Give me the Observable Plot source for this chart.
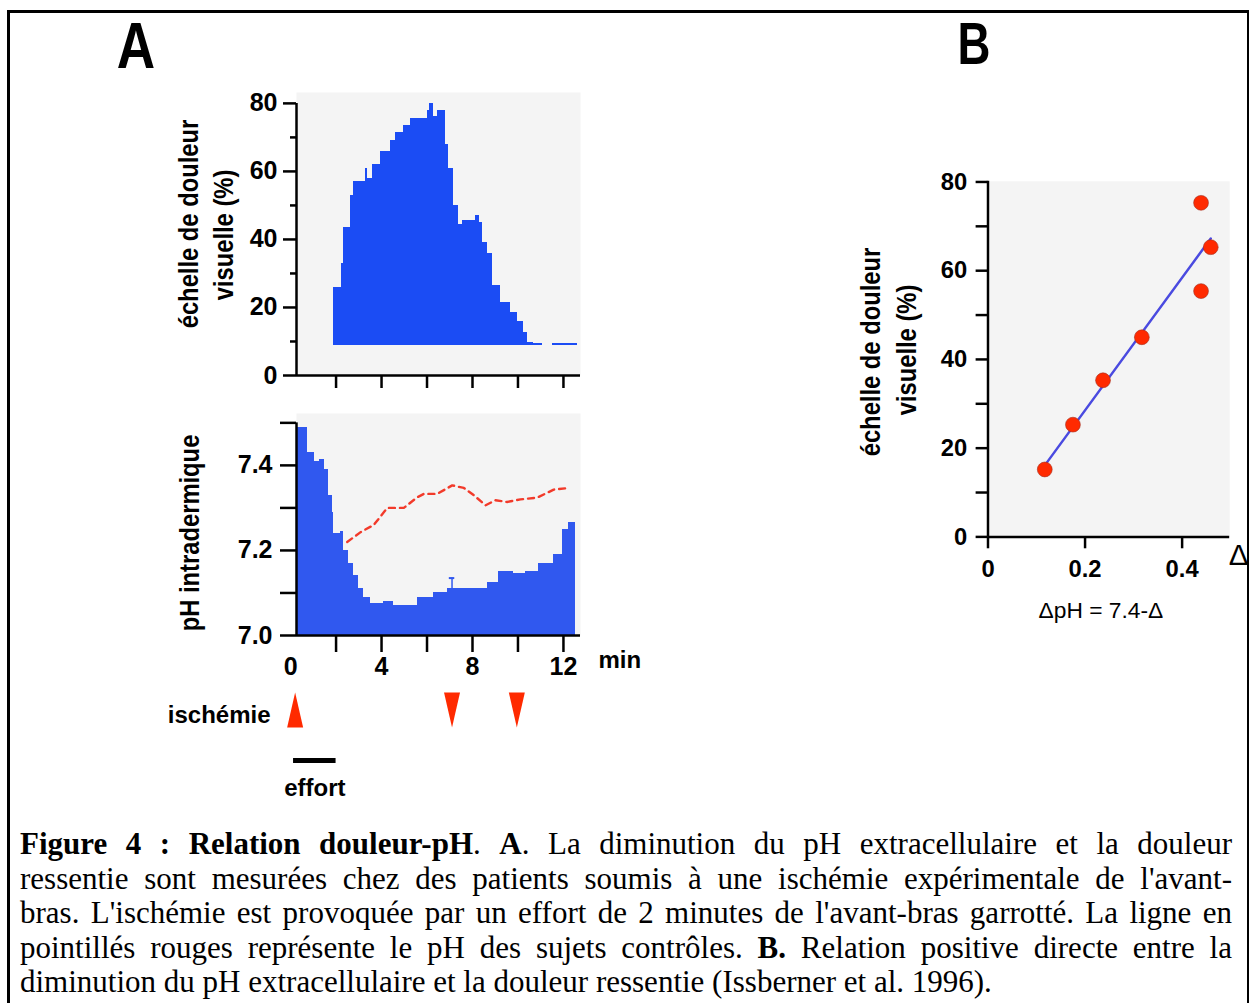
<!DOCTYPE html>
<html>
<head>
<meta charset="utf-8">
<script src="https://cdn.jsdelivr.net/npm/d3@7"></script>
<script src="https://cdn.jsdelivr.net/npm/@observablehq/plot@0.6"></script>
<style>
  html, body { margin: 0; padding: 0; background: #fff; }
  #frame { position: absolute; left: 7px; top: 10px; width: 1243px; height: 1010px; box-sizing: border-box; border: 3px solid #000; overflow: hidden; background: #fff; }
  #page { position: absolute; left: -10px; top: -13px; width: 1249px; height: 1003px; }
  .holder { position: absolute; }
  .lbl { position: absolute; font-family: "Liberation Sans", Arial, Helvetica, sans-serif; font-weight: bold; white-space: nowrap; line-height: 1.2; color: #000; transform: translate(-50%, -50%) scaleX(0.85); }
  .rot { transform: translate(-50%, -50%) rotate(-90deg) scaleX(0.88); }
  #caption { position: absolute; left: 20px; top: 827px; width: 1212px; font-family: "Liberation Serif", "Times New Roman", serif; font-size: 31px; line-height: 34.6px; color: #000; }
  #caption div { text-align: justify; text-align-last: justify; }
  #caption div.last { text-align-last: left; }
</style>
</head>
<body>
<div id="frame"><div id="page">
  <div class="lbl" style="left:136px; top:46px; font-size:64px; transform: translate(-50%, -50%) scaleX(0.83);">A</div>
  <div class="lbl" style="left:974px; top:44px; font-size:60px; transform: translate(-50%, -50%) scaleX(0.76);">B</div>

  <div class="lbl rot" style="left:189px; top:224px; font-size:27px;">échelle de douleur</div>
  <div class="lbl rot" style="left:224px; top:235px; font-size:27px;">visuelle (%)</div>
  <div class="lbl rot" style="left:190px; top:533px; font-size:27px;">pH intradermique</div>
  <div class="lbl rot" style="left:871px; top:352px; font-size:27px;">échelle de douleur</div>
  <div class="lbl rot" style="left:907px; top:350px; font-size:27px;">visuelle (%)</div>

  <div class="holder" id="painA" style="left:170px; top:80px;"></div>
  <div class="holder" id="phA" style="left:170px; top:400px;"></div>
  <div class="holder" id="evA" style="left:170px; top:685px;"></div>
  <div class="holder" id="plotB" style="left:830px; top:160px;"></div>

  <div id="caption">
    <div><b>Figure 4 : Relation douleur-pH</b>. <b>A</b>. La diminution du pH extracellulaire et la douleur</div>
    <div>ressentie sont mesurées chez des patients soumis à une ischémie expérimentale de l'avant-</div>
    <div>bras. L'ischémie est provoquée par un effort de 2 minutes de l'avant-bras garrotté. La ligne en</div>
    <div>pointillés rouges représente le pH des sujets contrôles. <b>B.</b> Relation positive directe entre la</div>
    <div class="last">diminution du pH extracellulaire et la douleur ressentie (Issberner et al. 1996).</div>
  </div>
</div></div>

<script>
// ---------- DATA ----------
// Panel A, top: visual pain scale (%) — step edges (min) and level on each step
const painEdges = [1.90, 2.23, 2.34, 2.64, 2.78, 3.30, 3.38, 3.59, 3.96, 4.40, 4.62, 4.98, 5.27, 6.01, 6.10, 6.30, 6.45, 6.81, 6.96, 7.18, 7.40, 7.55, 8.13, 8.30, 8.43, 8.65, 8.87, 9.23, 9.67, 9.96, 10.26, 10.40, 10.69, 11.06, 11.50, 12.60];
const painValues = [26, 33, 43.5, 53, 57, 61, 58, 62, 66, 69, 71.5, 73.5, 75.5, 78, 80, 76, 78, 68, 61, 50, 44.5, 45.5, 47, 45, 39, 36, 26.5, 21.5, 18.5, 16, 12.7, 9.8, 9.5, null, 9.5];
const painBase = 8.8;

// Panel A, bottom: intradermal pH — step edges (min) and level on each step
const phEdges = [0.30, 0.73, 1.03, 1.25, 1.47, 1.68, 1.83, 1.90, 2.20, 2.34, 2.56, 2.78, 3.00, 3.22, 3.52, 4.10, 4.54, 5.57, 6.30, 6.89, 8.65, 9.16, 9.82, 10.33, 10.92, 11.57, 11.94, 12.23, 12.53];
const phValues = [7.49, 7.43, 7.41, 7.415, 7.39, 7.33, 7.29, 7.24, 7.245, 7.20, 7.17, 7.14, 7.11, 7.09, 7.075, 7.08, 7.07, 7.09, 7.10, 7.11, 7.125, 7.15, 7.145, 7.15, 7.17, 7.19, 7.25, 7.265];
const phBase = 7.0;
const errTime = [7.1], errLow = [7.11], errHigh = [7.135];

// Control subjects (red dashed line)
const ctrlTime = [2.49, 3.08, 3.66, 4.25, 4.98, 5.57, 5.86, 6.45, 7.11, 7.62, 8.06, 8.57, 9.01, 9.52, 10.11, 10.84, 11.57, 12.23];
const ctrlPH = [7.22, 7.243, 7.26, 7.30, 7.30, 7.325, 7.333, 7.333, 7.353, 7.347, 7.33, 7.306, 7.318, 7.314, 7.32, 7.324, 7.343, 7.347];

// Events
const ischemiaOn = [0.2];
const ischemiaOff = [7.1, 9.95];
const effortSpan = [0.13, 2.0];

// Panel B
const deltaPH = [0.117, 0.175, 0.237, 0.317, 0.439, 0.459, 0.439];
const painB = [15.2, 25.3, 35.3, 45.0, 75.3, 65.3, 55.4];

// Ticks
const painTicksMajor = [0, 20, 40, 60, 80];
const painTicksMinor = [10, 30, 50, 70];
const timeTicks = [2, 4, 6, 8, 10, 12];
const timeLabels = [0, 4, 8, 12];
const phTicksMajor = [7.0, 7.2, 7.4];
const phTicksMinor = [7.1, 7.3, 7.5];
const bXTicks = [0, 0.2, 0.4];
const bYMajor = [0, 20, 40, 60, 80];
const bYMinor = [10, 30, 50, 70];

// ---------- STYLE ----------
const FONT = '"Liberation Sans", Arial, Helvetica, sans-serif';
const BG = "#f4f4f4";
const BLUE_TOP = "#1b4cf4";
const BLUE_BOT = "#3058ef";
const RED = "#ff2a00";
const AX = 2.5;
const CAP = 0.12;
const baseStyle = {fontFamily: FONT, fontSize: "25px", fontWeight: "bold", color: "#000", background: "transparent", overflow: "visible"};
const blank = () => "";

const painRows = painValues.map((v, i) => ({t0: painEdges[i], t1: painEdges[i + 1], v})).filter(d => d.v != null);
const phRows = phValues.map((v, i) => ({t0: phEdges[i], t1: phEdges[i + 1], v}));
const ctrlRows = ctrlTime.map((t, i) => ({t, v: ctrlPH[i]}));
const errRows = errTime.map((t, i) => ({t, lo: errLow[i], hi: errHigh[i]}));
const bRows = deltaPH.map((x, i) => ({x, y: painB[i]}));

const xDomain = [0.26, 12.75];

// ---------- Panel A top ----------
const painPlot = Plot.plot({
  width: 470, height: 315, marginLeft: 126, marginRight: 60, marginTop: 12, marginBottom: 20,
  x: {domain: xDomain}, y: {domain: [0, 83.2]},
  style: baseStyle,
  marks: [
    Plot.frame({fill: BG, stroke: "none"}),
    Plot.rectY(painRows, {x1: "t0", x2: "t1", y1: painBase, y2: "v", fill: BLUE_TOP, shapeRendering: "crispEdges"}),
    Plot.ruleX([xDomain[0]], {y1: 0, y2: d3.max(painTicksMajor), strokeWidth: AX}),
    Plot.ruleY([0], {strokeWidth: AX}),
    Plot.axisY({ticks: painTicksMajor, tickSize: 13, tickPadding: 6, strokeWidth: AX, label: null}),
    Plot.axisY({ticks: painTicksMinor, tickSize: 6, strokeWidth: AX, tickFormat: blank, label: null}),
    Plot.axisX({ticks: timeTicks, tickSize: 13, strokeWidth: AX, tickFormat: blank, label: null})
  ]
});
document.getElementById("painA").append(painPlot);

// ---------- Panel A bottom ----------
const phPlot = Plot.plot({
  width: 470, height: 285, marginLeft: 126, marginRight: 60, marginTop: 13, marginBottom: 50,
  x: {domain: xDomain}, y: {domain: [7.0, 7.522]},
  style: baseStyle,
  marks: [
    Plot.frame({fill: BG, stroke: "none"}),
    Plot.rectY(phRows, {x1: "t0", x2: "t1", y1: phBase, y2: "v", fill: BLUE_BOT, shapeRendering: "crispEdges"}),
    Plot.ruleX(errRows, {x: "t", y1: "lo", y2: "hi", stroke: BLUE_BOT, strokeWidth: 1.5}),
    Plot.ruleY(errRows, {y: "hi", x1: d => d.t - CAP, x2: d => d.t + CAP, stroke: BLUE_BOT, strokeWidth: 2}),
    Plot.line(ctrlRows, {x: "t", y: "v", stroke: "#f23a2a", strokeWidth: 2.4, strokeDasharray: "6,5"}),
    Plot.ruleX([xDomain[0]], {y1: phBase, y2: d3.max(phTicksMinor), strokeWidth: AX}),
    Plot.ruleY([phBase], {strokeWidth: AX}),
    Plot.axisY({ticks: phTicksMajor, tickSize: 16, tickPadding: 8, strokeWidth: AX, tickFormat: d3.format(".1f"), label: null}),
    Plot.axisY({ticks: phTicksMinor, tickSize: 16, strokeWidth: AX, tickFormat: blank, label: null}),
    Plot.axisX({ticks: timeTicks, tickSize: 17, strokeWidth: AX, tickFormat: blank, label: null}),
    Plot.axisX({ticks: timeLabels, tickSize: 0, tickPadding: 22, label: null}),
    Plot.text(["min"], {text: d => d, frameAnchor: "bottom-right", dx: 18, dy: 32, textAnchor: "start", fontSize: 24})
  ]
});
document.getElementById("phA").append(phPlot);

// ---------- Panel A events ----------
const triUp = {draw(ctx, l, r) { ctx.moveTo(-r, 0); ctx.lineTo(r, 0); ctx.lineTo(0, -l); ctx.closePath(); }};
const triDown = {draw(ctx, l, r) { ctx.moveTo(-r, -l); ctx.lineTo(r, -l); ctx.lineTo(0, 0); ctx.closePath(); }};
const evPlot = Plot.plot({
  width: 470, height: 125, marginLeft: 126, marginRight: 60, marginTop: 42, marginBottom: 50,
  x: {domain: xDomain, axis: null},
  y: {type: "point", domain: ["ischémie", "effort"], padding: 0, axis: null},
  style: {...baseStyle, fontSize: "24px"},
  marks: [
    Plot.vector(ischemiaOn, {x: d => d, y: () => "ischémie", length: 35, r: 8, shape: triUp, anchor: "start", fill: RED, stroke: "none"}),
    Plot.vector(ischemiaOff, {x: d => d, y: () => "ischémie", length: 35, r: 8, shape: triDown, anchor: "start", fill: RED, stroke: "none"}),
    Plot.ruleY([effortSpan], {y: () => "effort", x1: d => d[0], x2: d => d[1], strokeWidth: 5, stroke: "#000"}),
    Plot.text([effortSpan], {x: d => d3.mean(d), y: () => "effort", text: () => "effort", dy: 28}),
    Plot.text(["ischémie"], {y: () => "ischémie", text: d => d, frameAnchor: "left", textAnchor: "end", dx: -26, dy: -12})
  ]
});
document.getElementById("evA").append(evPlot);

// ---------- Panel B ----------
const bPlot = Plot.plot({
  width: 423, height: 480, marginLeft: 159, marginRight: 20, marginTop: 21, marginBottom: 100,
  x: {domain: [0, 0.498]}, y: {domain: [0, 80.15]},
  style: {...baseStyle, fontSize: "24px"},
  marks: [
    Plot.frame({fill: BG, stroke: "none"}),
    Plot.ruleX([0], {strokeWidth: AX}),
    Plot.ruleY([0], {strokeWidth: AX}),
    Plot.axisY({ticks: bYMajor, tickSize: 12, tickPadding: 9, strokeWidth: AX, label: null}),
    Plot.axisY({ticks: bYMinor, tickSize: 12, strokeWidth: AX, tickFormat: blank, label: null}),
    Plot.axisX({ticks: bXTicks, tickSize: 12, tickPadding: 11, strokeWidth: AX, tickFormat: d => d === 0 ? "0" : d.toFixed(1), label: null}),
    Plot.linearRegressionY(bRows, {x: "x", y: "y", ci: 0, stroke: "#4a4ae0", strokeWidth: 2.5}),
    Plot.dot(bRows, {x: "x", y: "y", r: 7.5, fill: RED, stroke: "#a03020", strokeWidth: 1, strokeOpacity: 0.6}),
    Plot.text(["ΔpH = 7.4-Δ"], {text: d => d, frameAnchor: "bottom", dx: -8, dy: 82, fontSize: 23, fontWeight: "normal"}),
    Plot.text(["Δ"], {text: d => d, frameAnchor: "bottom-right", dx: -1, dy: 28, textAnchor: "start", fontSize: 30, fontWeight: "normal"})
  ]
});
document.getElementById("plotB").append(bPlot);
</script>
</body>
</html>
